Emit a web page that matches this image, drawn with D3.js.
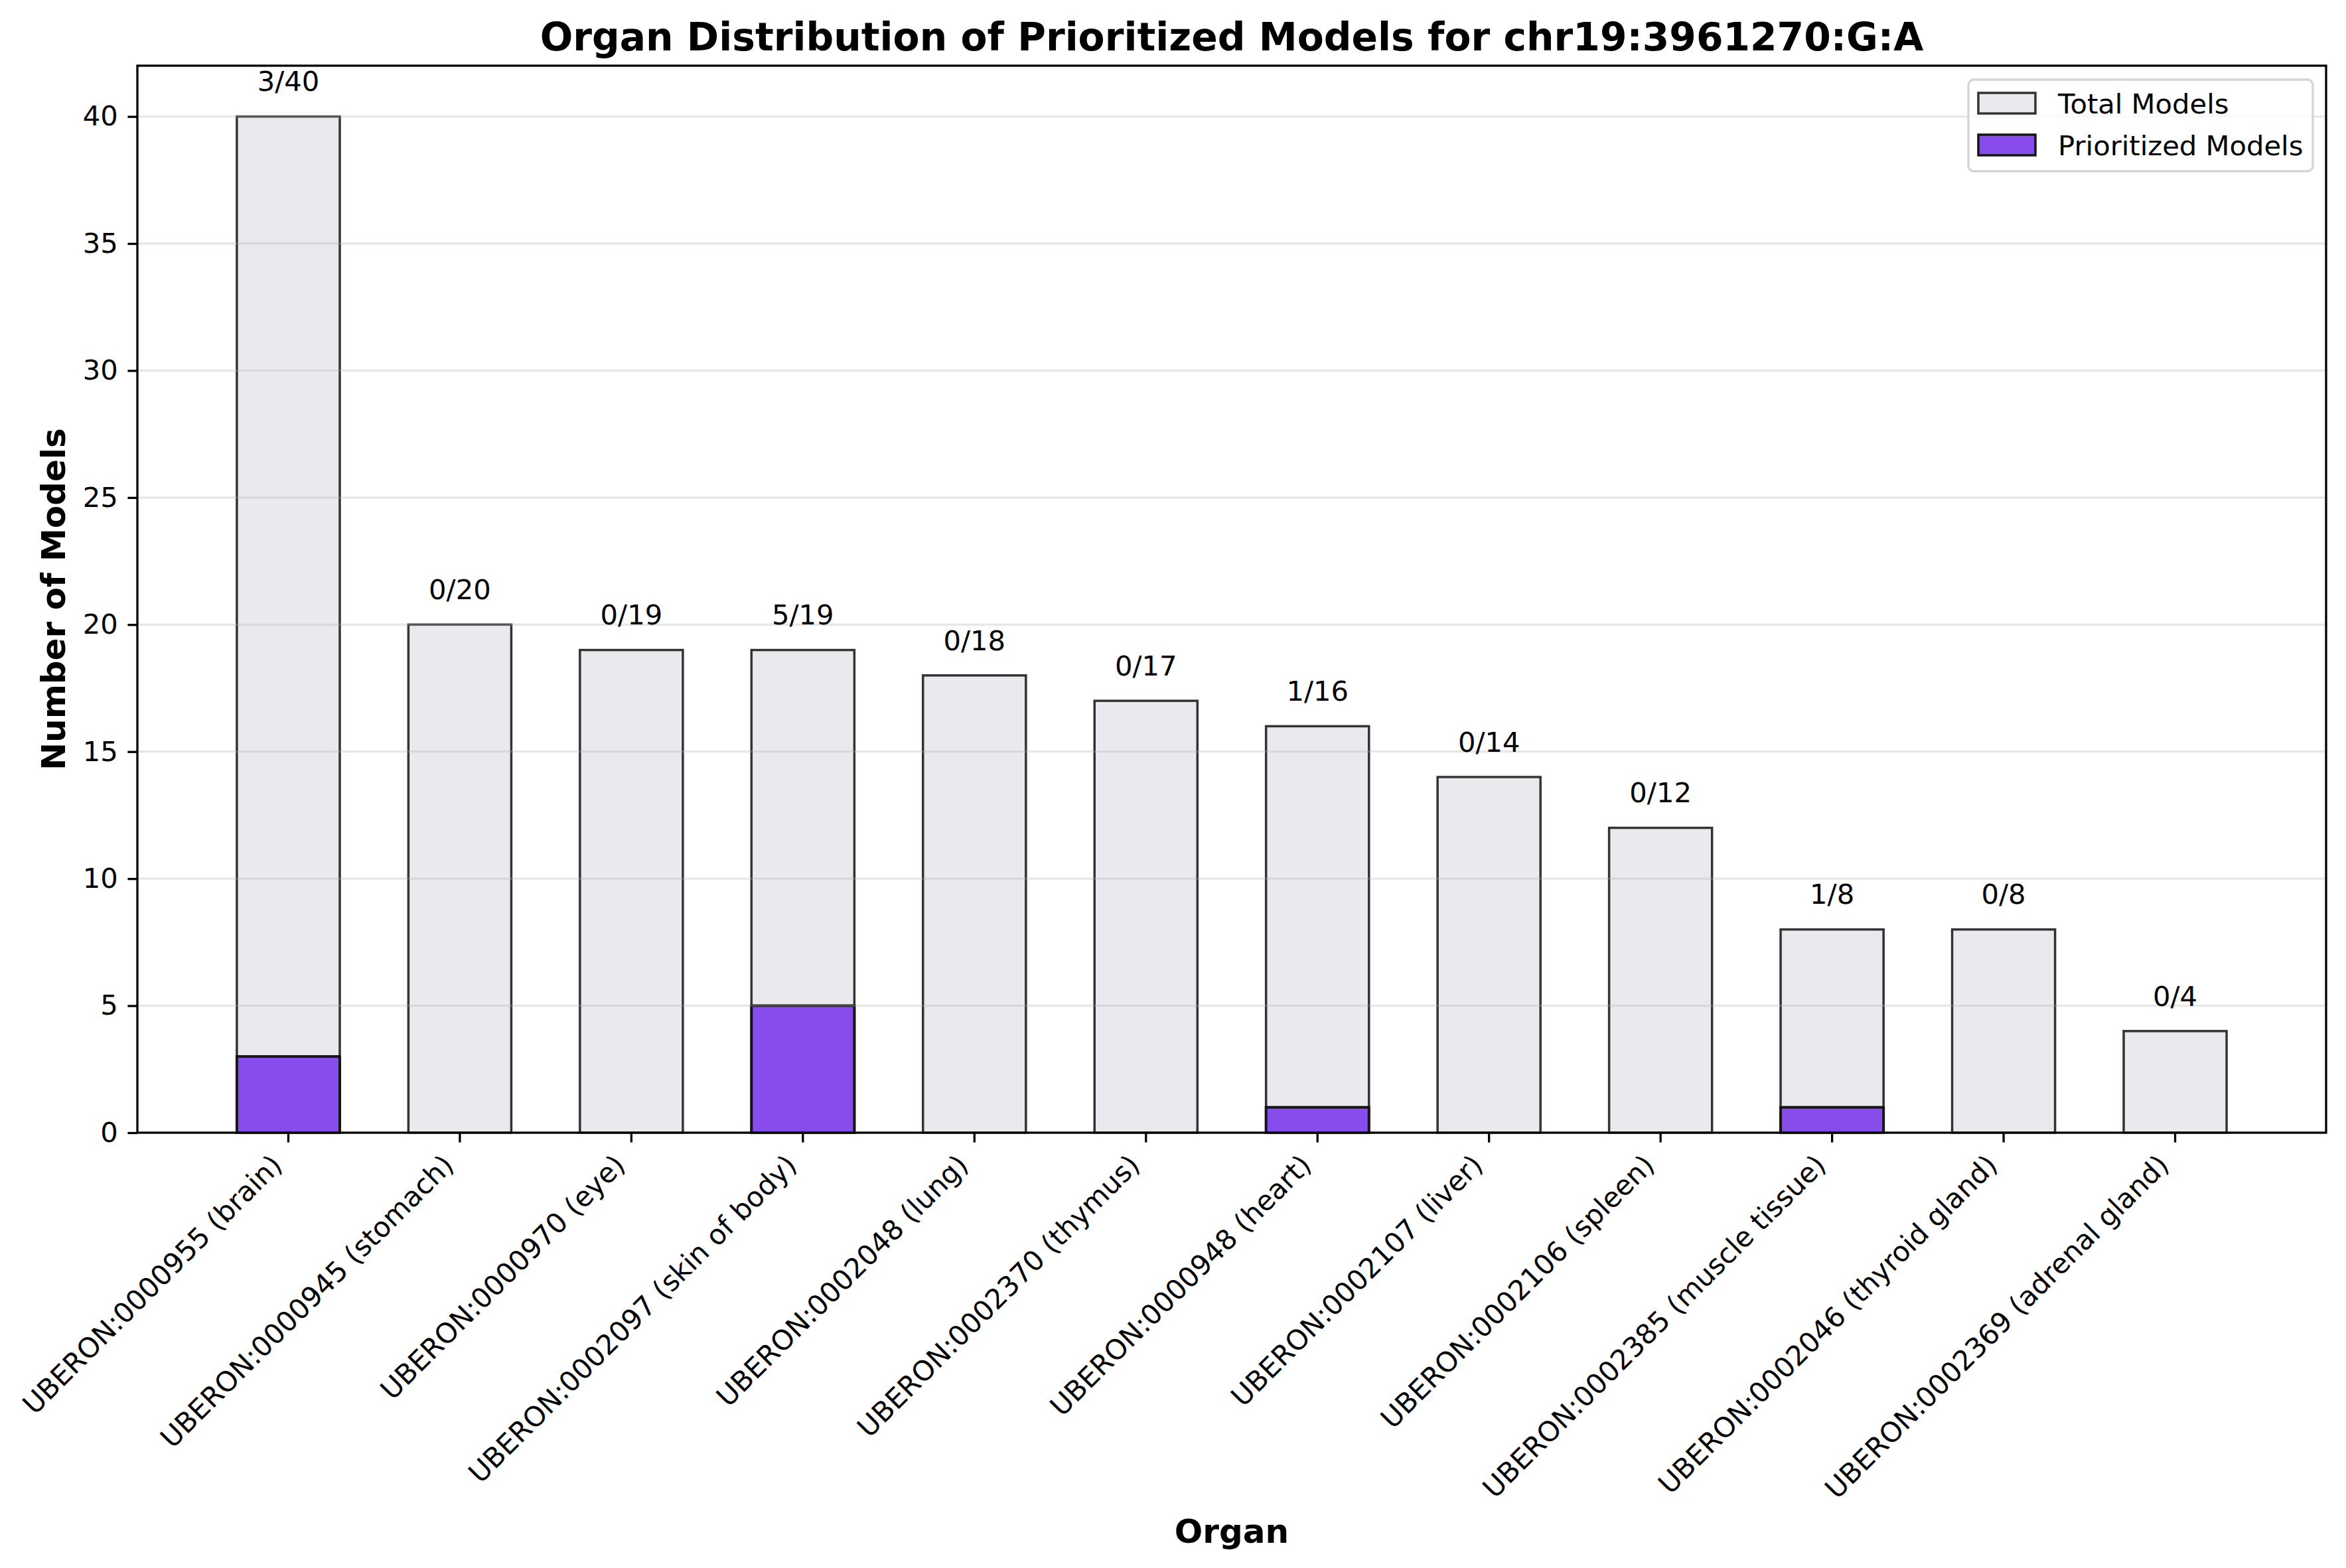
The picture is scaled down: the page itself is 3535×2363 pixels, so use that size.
<!DOCTYPE html>
<html>
<head>
<meta charset="utf-8">
<script src="https://cdn.jsdelivr.net/npm/d3@7"></script>
<style>
  body { margin: 0; background: #fff; }
  svg { display: block; font-family: "DejaVu Sans", sans-serif; }
</style>
</head>
<body>
<div id="chart"></div>
<script>
const organs = [
  "UBERON:0000955 (brain)",
  "UBERON:0000945 (stomach)",
  "UBERON:0000970 (eye)",
  "UBERON:0002097 (skin of body)",
  "UBERON:0002048 (lung)",
  "UBERON:0002370 (thymus)",
  "UBERON:0000948 (heart)",
  "UBERON:0002107 (liver)",
  "UBERON:0002106 (spleen)",
  "UBERON:0002385 (muscle tissue)",
  "UBERON:0002046 (thyroid gland)",
  "UBERON:0002369 (adrenal gland)"
];
const totalModels = [40, 20, 19, 19, 18, 17, 16, 14, 12, 8, 8, 4];
const prioritizedModels = [3, 0, 0, 5, 0, 0, 1, 0, 0, 1, 0, 0];
const yTicks = [0, 5, 10, 15, 20, 25, 30, 35, 40];

const width = 3535;
const height = 2363;
const margin = { top: 99, right: 30, bottom: 656, left: 207 };
const innerW = width - margin.left - margin.right;
const innerH = height - margin.top - margin.bottom;
const tick = 14.6;

const svg = d3.select("#chart")
  .append("svg")
  .attr("width", width)
  .attr("height", height);

const g = svg.append("g")
  .attr("transform", `translate(${margin.left},${margin.top})`);

const x = d3.scaleBand()
  .domain(organs)
  .range([0, innerW])
  .paddingInner(0.4)
  .paddingOuter(0.58);

const y = d3.scaleLinear()
  .domain([0, 42])
  .range([innerH, 0]);

// total bars
g.selectAll("rect.total")
  .data(organs)
  .enter().append("rect")
  .attr("class", "total")
  .attr("x", d => x(d))
  .attr("y", (d, i) => y(totalModels[i]))
  .attr("width", x.bandwidth())
  .attr("height", (d, i) => y(0) - y(totalModels[i]))
  .attr("fill", "#e9eaee")
  .attr("stroke", "#333333")
  .attr("stroke-width", 3.5);

// prioritized bars
g.selectAll("rect.prio")
  .data(organs)
  .enter().append("rect")
  .attr("class", "prio")
  .attr("x", d => x(d))
  .attr("y", (d, i) => y(prioritizedModels[i]))
  .attr("width", x.bandwidth())
  .attr("height", (d, i) => y(0) - y(prioritizedModels[i]))
  .attr("fill", "#884cec")
  .attr("stroke", "#151515")
  .attr("stroke-width", 4);

// grid
g.append("g")
  .selectAll("line")
  .data(yTicks)
  .enter().append("line")
  .attr("x1", 0)
  .attr("x2", innerW)
  .attr("y1", d => y(d))
  .attr("y2", d => y(d))
  .attr("stroke", "#b0b0b0")
  .attr("stroke-opacity", 0.3)
  .attr("stroke-width", 3.3);

// count labels
g.selectAll("text.count")
  .data(organs)
  .enter().append("text")
  .attr("class", "count")
  .attr("x", d => x(d) + x.bandwidth() / 2)
  .attr("y", (d, i) => y(totalModels[i] + 1))
  .attr("text-anchor", "middle")
  .attr("font-size", 41.7)
  .attr("fill", "#000")
  .text((d, i) => `${prioritizedModels[i]}/${totalModels[i]}`);

// axes
const yAxis = g.append("g")
  .call(d3.axisLeft(y).tickValues(yTicks).tickSize(tick).tickPadding(tick));
yAxis.select(".domain").remove();
yAxis.selectAll("line").attr("stroke", "#000").attr("stroke-width", 3.3);
yAxis.selectAll("text").attr("font-size", 41.7).attr("font-family", "DejaVu Sans").attr("fill", "#000");

const xAxis = g.append("g")
  .attr("transform", `translate(0,${innerH})`)
  .call(d3.axisBottom(x).tickSize(tick));
xAxis.select(".domain").remove();
xAxis.selectAll("line").attr("stroke", "#000").attr("stroke-width", 3.3);
xAxis.selectAll("text")
  .attr("font-size", 41.7)
  .attr("font-family", "DejaVu Sans")
  .attr("fill", "#000")
  .attr("text-anchor", "end")
  .attr("x", 0)
  .attr("y", 0)
  .attr("dy", 0)
  .attr("transform", `translate(-7,${2 * tick + 22}) rotate(-45)`);

// frame
g.append("rect")
  .attr("width", innerW)
  .attr("height", innerH)
  .attr("fill", "none")
  .attr("stroke", "#000")
  .attr("stroke-width", 3.3);

// title & labels
svg.append("text")
  .attr("x", margin.left + innerW / 2)
  .attr("y", 76)
  .attr("text-anchor", "middle")
  .attr("font-size", 58.3)
  .attr("font-weight", "bold")
  .text("Organ Distribution of Prioritized Models for chr19:3961270:G:A");

svg.append("text")
  .attr("transform", `translate(98,${margin.top + innerH / 2}) rotate(-90)`)
  .attr("text-anchor", "middle")
  .attr("font-size", 50)
  .attr("font-weight", "bold")
  .text("Number of Models");

svg.append("text")
  .attr("x", margin.left + innerW / 2)
  .attr("y", 2325)
  .attr("text-anchor", "middle")
  .attr("font-size", 50)
  .attr("font-weight", "bold")
  .text("Organ");

// legend
const legendItems = [
  { label: "Total Models", fill: "#e9eaee", stroke: "#333333" },
  { label: "Prioritized Models", fill: "#884cec", stroke: "#151515" }
];
const legend = svg.append("g").attr("transform", "translate(2966,120)");
legend.append("rect")
  .attr("width", 519)
  .attr("height", 138)
  .attr("rx", 8)
  .attr("fill", "#fff")
  .attr("fill-opacity", 0.8)
  .attr("stroke", "#d5d5d5")
  .attr("stroke-width", 3.3);
const li = legend.selectAll("g.item")
  .data(legendItems)
  .enter().append("g")
  .attr("transform", (d, i) => `translate(15,${20 + i * 63})`);
li.append("rect")
  .attr("width", 86)
  .attr("height", 31)
  .attr("fill", d => d.fill)
  .attr("stroke", d => d.stroke)
  .attr("stroke-width", 3.5);
li.append("text")
  .attr("x", 120)
  .attr("y", 31)
  .attr("font-size", 41.7)
  .text(d => d.label);
</script>
</body>
</html>
